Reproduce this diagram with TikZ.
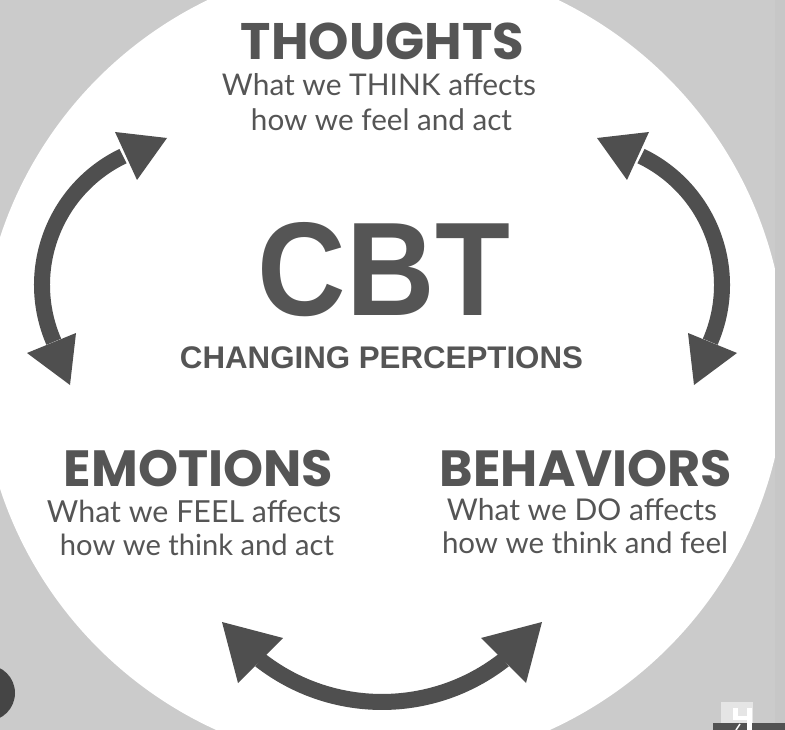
\documentclass[tikz,border=0pt]{standalone}
\usepackage{fontspec}
\usepackage{graphicx}
\setmainfont{Lato}
\newfontfamily\titlefont{Poppins}
\newfontfamily\headfont{Liberation Sans}
\definecolor{bg}{HTML}{CBCBCB}
\definecolor{strip}{HTML}{C7C7C7}
\definecolor{ink}{HTML}{555555}
\definecolor{arrowc}{HTML}{4F4F4F}
\definecolor{dot}{HTML}{454545}
\begin{document}
\begin{tikzpicture}[x=1pt,y=-1pt,
  txt/.style={text=ink, anchor=base, inner sep=0pt, outer sep=0pt},
  body/.style={draw=arrowc, line width=16pt, line cap=butt},
  head/.style={fill=arrowc}]
\useasboundingbox (0,0) rectangle (785,730);
\fill[bg] (0,0) rectangle (785,730);
\fill[white] (383,363) circle[radius=403];
\fill[strip] (775,0) rectangle (785,730);

% bottom-left dot
\fill[dot] (-13,693) circle[radius=28];

% logo bottom-right
\fill[black!10] (721,702) rectangle (753,723);
\fill[black!68] (713,723) rectangle (785,730);
\fill[white] (733,708) rectangle (738,719);
\fill[white] (733,716) rectangle (752,720);
\fill[white] (747,708) rectangle (752,730);
\draw[white, line width=1.5pt] (736,730) -- (740,724);

% texts
\node[txt] (thoughts) at (382.5,60) {\resizebox{283pt}{!}{\titlefont\bfseries THOUGHTS}};
\node[txt] (thoughtsA) at (379,96) {\resizebox{314pt}{!}{What we THINK affects}};
\node[txt] (thoughtsB) at (381.5,131) {\resizebox{261pt}{!}{how we feel and act}};

\node[txt] (cbt) at (384,315) {\resizebox{252pt}{93pt}{\headfont\bfseries CBT}};
\node[txt] (changing) at (381.5,369) {\resizebox{403pt}{!}{\headfont\bfseries CHANGING PERCEPTIONS}};

\node[txt] (emotions) at (198.5,486) {\resizebox{269pt}{!}{\titlefont\bfseries EMOTIONS}};
\node[txt] (emotionsA) at (194,522) {\resizebox{294pt}{!}{What we FEEL affects}};
\node[txt] (emotionsB) at (197,555) {\resizebox{274pt}{!}{how we think and act}};

\node[txt] (behaviors) at (586,486) {\resizebox{292pt}{!}{\titlefont\bfseries BEHAVIORS}};
\node[txt] (behaviorsA) at (582,520) {\resizebox{270pt}{!}{What we DO affects}};
\node[txt] (behaviorsB) at (585,553) {\resizebox{286pt}{!}{how we think and feel}};

% arrow end coordinates
\coordinate (lt) at (123,156.1);
\coordinate (rt) at (641,156.1);
\coordinate (bl) at (260.1,660);
% left arrow
\draw[body] (lt) arc[start angle=244.3, end angle=156.6, radius=143];
\fill[head] (115,132) -- (167,138) -- (137,180) -- cycle;
\fill[head] (27,353) -- (76,333) -- (70,385) -- cycle;
% right arrow
\draw[body] (rt) arc[start angle=295.7, end angle=383.4, radius=143];
\fill[head] (649,132) -- (597,138) -- (627,180) -- cycle;
\fill[head] (737,353) -- (688,333) -- (694,385) -- cycle;
% bottom arrow
\draw[body] (bl) arc[start angle=128, end angle=52, radius=198];
\fill[head] (222,622) -- (283,638) -- (238,683) -- cycle;
\fill[head] (542,622) -- (481,638) -- (526,683) -- cycle;
\end{tikzpicture}
\end{document}
